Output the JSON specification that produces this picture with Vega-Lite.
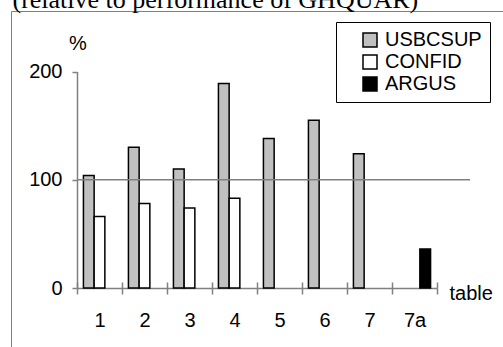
{
  "$schema": "https://vega.github.io/schema/vega-lite/v6.json",
  "width": 500,
  "height": 345,
  "autosize": {"type": "none"},
  "padding": {"left": 11, "top": 11, "right": 0, "bottom": 0},
  "background": "white",
  "config": {
    "view": {"stroke": "#808080", "strokeWidth": 1},
    "font": "Liberation Sans"
  },
  "datasets": {
    "bars": [
      {"table": "1", "series": "USBCSUP", "value": 104},
      {"table": "1", "series": "CONFID", "value": 66},
      {"table": "2", "series": "USBCSUP", "value": 130},
      {"table": "2", "series": "CONFID", "value": 78},
      {"table": "3", "series": "USBCSUP", "value": 110},
      {"table": "3", "series": "CONFID", "value": 74},
      {"table": "4", "series": "USBCSUP", "value": 189},
      {"table": "4", "series": "CONFID", "value": 83},
      {"table": "5", "series": "USBCSUP", "value": 138},
      {"table": "6", "series": "USBCSUP", "value": 155},
      {"table": "7", "series": "USBCSUP", "value": 124},
      {"table": "7a", "series": "ARGUS", "value": 36}
    ],
    "ref": [{"level": 100}]
  },
  "layer": [
    {
      "data": {"name": "bars"},
      "mark": {"type": "bar", "stroke": "black", "strokeWidth": 1.5},
      "encoding": {
        "x": {
          "field": "table",
          "type": "nominal",
          "sort": ["1", "2", "3", "4", "5", "6", "7", "7a"],
          "scale": {"range": [66, 426], "paddingInner": 0, "paddingOuter": 0},
          "axis": {
            "orient": "bottom",
            "offset": -68,
            "title": "table",
            "tickBand": "extent",
            "tickSize": 6,
            "tickColor": "#808080",
            "tickWidth": 1.5,
            "domainColor": "#808080",
            "domainWidth": 1.5,
            "grid": false,
            "labelAngle": 0,
            "labelFontSize": 20,
            "labelColor": "black",
            "labelPadding": 26,
            "labelBaseline": "middle",
            "titleX": 438,
            "titleY": 11,
            "titleAlign": "left",
            "titleBaseline": "alphabetic",
            "titleFontSize": 20,
            "titleFontWeight": "normal",
            "titleColor": "black"
          }
        },
        "xOffset": {
          "field": "series",
          "type": "nominal",
          "scale": {"domain": ["USBCSUP", "CONFID", "ARGUS"], "paddingInner": 0, "paddingOuter": 0.6}
        },
        "y": {
          "field": "value",
          "type": "quantitative",
          "scale": {"domain": [0, 200], "range": [277, 60.5], "nice": false, "zero": false},
          "axis": {
            "values": [0, 100, 200],
            "offset": -66,
            "tickSize": 5,
            "tickColor": "#808080",
            "tickWidth": 1.5,
            "domainColor": "#808080",
            "domainWidth": 1.5,
            "grid": false,
            "labelFontSize": 20,
            "labelColor": "black",
            "labelPadding": 10,
            "title": "%",
            "titleAngle": 0,
            "titleX": 0.5,
            "titleY": 32,
            "titleAlign": "center",
            "titleBaseline": "middle",
            "titleFontSize": 20,
            "titleFontWeight": "normal",
            "titleColor": "black"
          }
        },
        "color": {
          "field": "series",
          "type": "nominal",
          "scale": {"domain": ["USBCSUP", "CONFID", "ARGUS"], "range": ["#c0c0c0", "#ffffff", "#000000"]},
          "legend": {
            "orient": "none",
            "legendX": 325,
            "legendY": 11,
            "title": null,
            "strokeColor": "black",
            "fillColor": "white",
            "padding": 8,
            "symbolType": "square",
            "symbolSize": 196,
            "symbolStrokeColor": "black",
            "symbolStrokeWidth": 1.5,
            "symbolOffset": 16,
            "labelFontSize": 20,
            "labelColor": "black",
            "labelOffset": 5,
            "rowPadding": 2
          }
        }
      }
    },
    {
      "data": {"name": "ref"},
      "mark": {"type": "rule", "color": "#808080", "strokeWidth": 1.5},
      "encoding": {
        "y": {
          "field": "level",
          "type": "quantitative",
          "scale": {"domain": [0, 200], "range": [277, 60.5], "nice": false, "zero": false}
        },
        "x": {
          "datum": 0,
          "type": "quantitative",
          "scale": {"domain": [0, 1], "range": [66, 459]},
          "axis": {
            "orient": "top",
            "offset": 0,
            "domain": false,
            "ticks": false,
            "labels": false,
            "grid": false,
            "title": "(relative to performance of GHQUAR)",
            "titleFont": "Liberation Serif",
            "titleFontSize": 26,
            "titleFontWeight": "normal",
            "titleColor": "black",
            "titleAnchor": "start",
            "titleAlign": "left",
            "titleBaseline": "alphabetic",
            "titleX": 1,
            "titleY": -4
          }
        },
        "x2": {"datum": 1}
      }
    },
    {
      "data": {"name": "bars"},
      "mark": {"type": "bar", "opacity": 0},
      "encoding": {
        "x": {
          "field": "table",
          "type": "nominal",
          "sort": ["1", "2", "3", "4", "5", "6", "7", "7a"],
          "scale": {"range": [66, 426], "paddingInner": 0, "paddingOuter": 0},
          "axis": {
            "orient": "bottom",
            "offset": -68,
            "title": null,
            "tickBand": "extent",
            "tickSize": -6,
            "tickColor": "#808080",
            "tickWidth": 1.5,
            "domain": false,
            "labels": false,
            "grid": false
          }
        },
        "y": {
          "field": "value",
          "type": "quantitative",
          "scale": {"domain": [0, 200], "range": [277, 60.5], "nice": false, "zero": false}
        }
      }
    }
  ],
  "resolve": {"scale": {"x": "independent"}, "axis": {"x": "independent"}}
}
